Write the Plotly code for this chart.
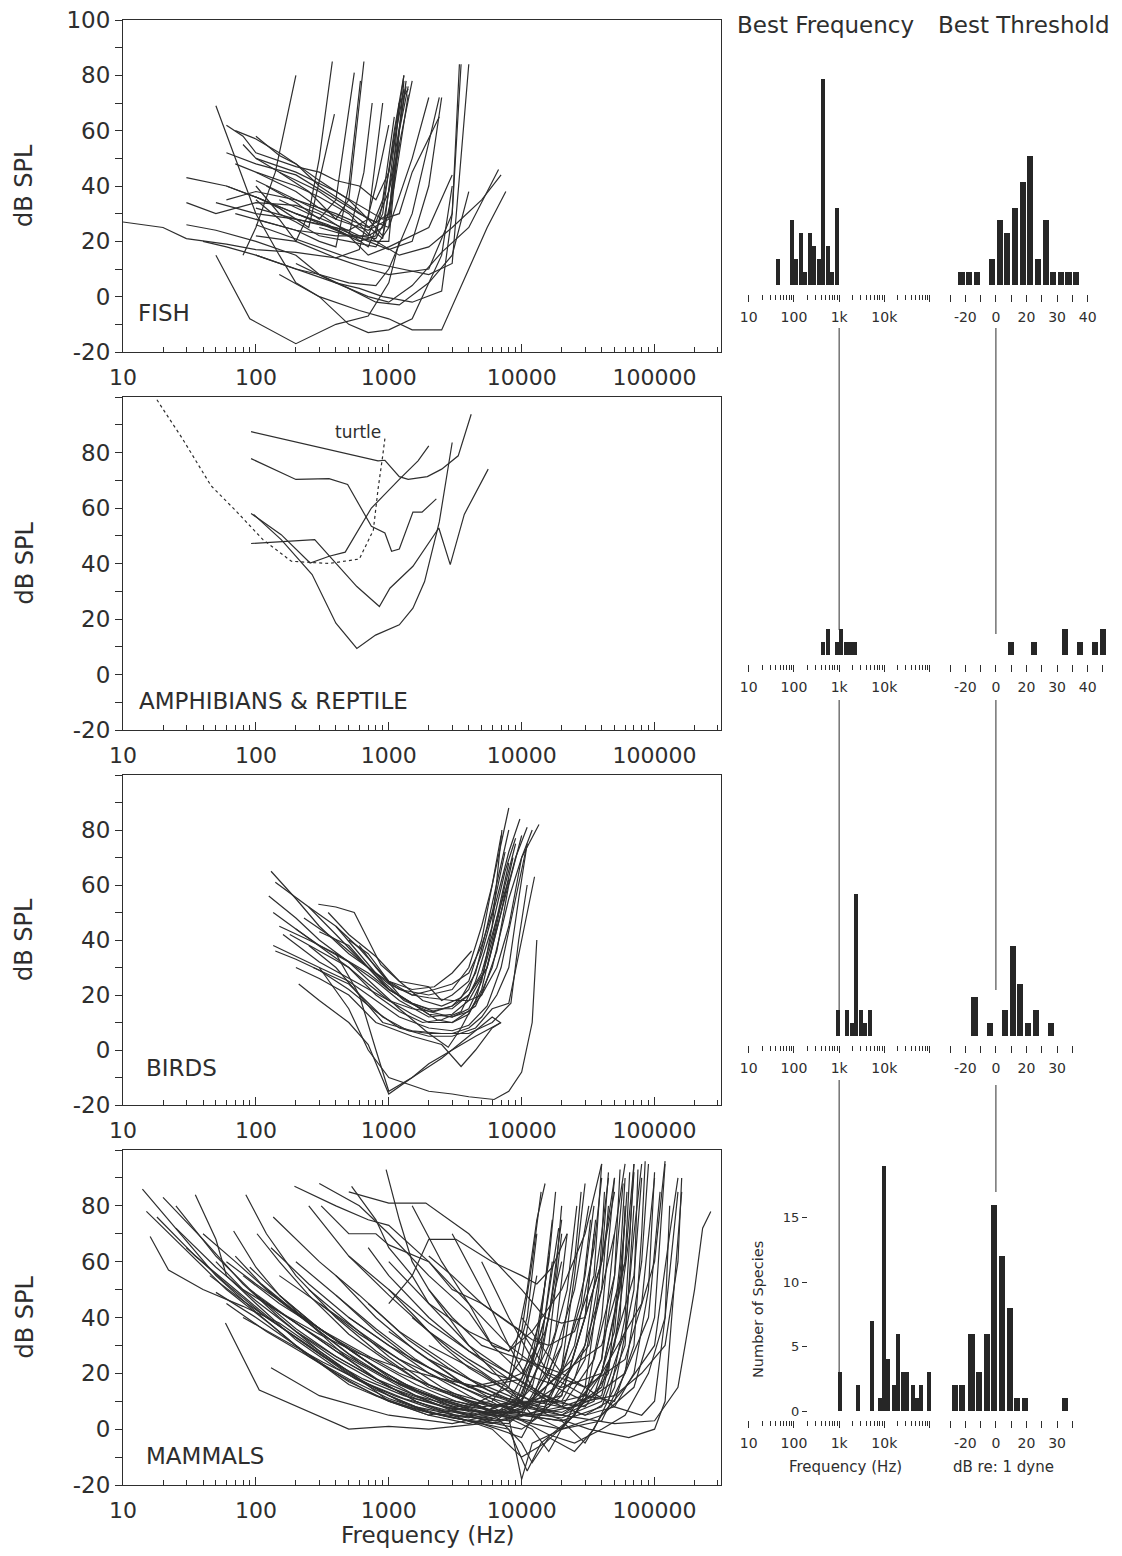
import numpy as np
import plotly.graph_objects as go

# page is 1122 x 1556; the page body adds an 8 px margin, so the figure is 16 px smaller
OFF = 8
FW, FH = 1122 - 2 * OFF, 1556 - 2 * OFF
INK = "#2e2e2e"
FONT = "DejaVu Sans, Liberation Sans, Arial, sans-serif"

# ---------------- DATA ----------------
freq_tick_values = [10, 100, 1000, 10000, 100000]
freq_tick_labels = ["10", "100", "1000", "10000", "100000"]
spl_tick_values = list(range(-20, 101, 10))
fish_spl_labels = ["-20", "", "0", "", "20", "", "40", "", "60", "", "80", "", "100"]
other_spl_labels = ["-20", "", "0", "", "20", "", "40", "", "60", "", "80", "", ""]

# audiograms: (frequency Hz, threshold dB SPL)
fish_curves = [
    [(10, 27), (20, 25), (30, 21), (60, 19), (100, 17), (200, 16), (400, 14), (600, 17), (800, 40), (1000, 62)],
    [(30, 34), (50, 30), (100, 34), (200, 33), (300, 30), (500, 23), (700, 18), (900, 30), (1100, 60), (1300, 80)],
    [(30, 43), (60, 40), (100, 36), (200, 30), (400, 24), (600, 20), (800, 22), (1000, 45), (1200, 70)],
    [(30, 26), (50, 24), (100, 20), (200, 15), (300, 8), (500, 3), (800, -2), (1200, -3), (2000, 5), (3000, 15), (4000, 38)],
    [(50, 69), (70, 50), (100, 30), (150, 15), (200, 5), (300, 0), (500, -10), (700, -13), (1000, -12), (1500, -8), (2000, 5), (2500, 15), (3000, 40)],
    [(50, 15), (90, -8), (200, -17), (400, -10), (700, -7), (1000, 5), (1200, 20)],
    [(60, 62), (80, 58), (100, 52), (200, 47), (300, 45), (400, 42), (600, 40), (800, 35), (1000, 45), (1300, 75)],
    [(60, 52), (100, 48), (200, 44), (400, 35), (600, 30), (800, 27), (1000, 38), (1200, 55)],
    [(70, 60), (100, 57), (150, 52), (200, 48), (300, 42), (500, 35), (700, 28), (900, 22), (1100, 40), (1400, 73)],
    [(100, 58), (150, 51), (200, 48), (300, 40), (500, 33), (700, 28), (1000, 25), (1200, 60), (1400, 76)],
    [(100, 40), (150, 30), (200, 27), (300, 22), (500, 20), (800, 18), (1000, 25), (1500, 50), (2000, 72)],
    [(50, 34), (100, 30), (200, 28), (400, 25), (700, 20), (1000, 17), (1500, 20), (2000, 40), (2500, 72)],
    [(100, 22), (200, 20), (400, 14), (700, 10), (1000, 8), (2000, 10), (3000, 30), (3500, 84)],
    [(100, 26), (150, 23), (300, 18), (500, 14), (1000, 11), (2000, 8), (3000, 12), (4000, 84)],
    [(80, 15), (100, 25), (140, 45), (200, 80)],
    [(100, 35), (150, 28), (200, 20), (250, 30), (300, 50), (376, 85)],
    [(150, 45), (250, 38), (400, 28), (500, 35), (650, 85)],
    [(100, 28), (200, 24), (300, 20), (400, 18), (500, 40), (612, 78)],
    [(120, 40), (200, 34), (300, 28), (400, 35), (550, 81)],
    [(100, 36), (150, 32), (250, 25), (390, 66)],
    [(200, 12), (400, 5), (700, 0), (1000, -2), (1500, 4), (2500, 16), (4000, 25), (6700, 46)],
    [(300, 25), (500, 22), (800, 20), (1200, 15), (2000, 18), (3000, 25), (5000, 35), (7000, 44)],
    [(150, 8), (300, 0), (600, -5), (1000, -8), (1500, -12), (2500, -12), (4000, 10), (5500, 25), (7600, 38)],
    [(70, 48), (100, 45), (200, 40), (300, 36), (500, 30), (800, 20), (1000, 20), (1300, 78)],
    [(80, 55), (100, 50), (150, 45), (300, 38), (600, 28), (900, 21), (1100, 55), (1300, 80)],
    [(100, 42), (150, 38), (200, 35), (400, 28), (700, 24), (1000, 28), (1200, 70), (1400, 75)],
    [(100, 15), (200, 10), (400, 5), (600, 3), (900, 0), (1500, -2), (2500, 2), (3000, 30), (3400, 84)],
    [(40, 20), (60, 18), (100, 15), (200, 10), (300, 8), (500, 5), (800, 4), (1000, 10), (1500, 30), (2400, 72)],
    [(100, 50), (200, 45), (400, 38), (600, 33), (900, 28), (1200, 30), (1500, 45), (2400, 65)],
    [(60, 35), (100, 38), (200, 35), (400, 30), (700, 25), (1000, 30), (1200, 55), (1500, 78)],
    [(200, 30), (300, 27), (500, 22), (700, 15), (1000, 18), (2000, 25), (3000, 44)],
    [(100, 45), (200, 38), (300, 32), (500, 27), (700, 22), (900, 25), (1100, 50), (1350, 76)],
    [(150, 35), (250, 30), (400, 26), (600, 22), (800, 21), (1000, 30), (1200, 60), (1350, 78)],
    [(70, 30), (100, 28), (200, 24), (400, 22), (700, 22), (900, 35), (1100, 65)],
    [(100, 32), (200, 28), (300, 26), (500, 24), (700, 28), (800, 50), (900, 70)],
    [(60, 40), (100, 36), (200, 30), (350, 26), (500, 22), (650, 45), (750, 70)],
]

amph_curves = [
    [(92, 87.5), (830, 77), (935, 77.2), (1200, 71.3), (1400, 70.3), (1950, 71.3), (2500, 74), (3330, 78.8), (4170, 93.8)],
    [(92, 77.8), (200, 70.3), (355, 70.6), (490, 68.5), (740, 53.4), (935, 51), (1050, 44.4), (1200, 45.2), (1520, 58.5), (1780, 58.5), (2280, 63.3)],
    [(92, 47.2), (277, 48.6), (575, 31.7), (850, 24.5), (1020, 31.1), (1520, 39), (2380, 52.8), (2900, 39.6), (3700, 57.7), (5600, 74)],
    [(92, 58), (155, 50.4), (256, 40.2), (356, 42.6), (470, 44.1), (740, 60), (1200, 70.3), (1660, 77), (2000, 82.4)],
    [(96, 57.7), (155, 48.6), (265, 36), (400, 18.5), (575, 9.4), (795, 14.2), (1200, 17.9), (1520, 23.9), (1860, 33.5), (2400, 55), (3000, 83.6)],
]
turtle_curve = [(18, 99), (28, 85), (46, 68), (69, 59.5), (113, 48.6), (185, 40.8), (356, 40), (600, 41.6), (765, 52), (830, 66.7), (900, 78.8), (935, 85)]

bird_curves = [
    [(130, 65), (200, 55), (300, 45), (500, 35), (800, 28), (1200, 22), (2000, 20), (3000, 22), (4000, 30), (5000, 45), (6000, 60), (7000, 75), (8000, 88)],
    [(140, 61), (250, 52), (400, 42), (700, 30), (1000, 22), (1500, 17), (2200, 14), (3000, 16), (4000, 22), (5000, 35), (6500, 55), (8000, 72), (9700, 84)],
    [(125, 56), (200, 48), (300, 40), (500, 32), (800, 25), (1200, 18), (2000, 12), (3000, 13), (4000, 18), (5500, 30), (7000, 50), (9000, 70), (11000, 81)],
    [(135, 50), (200, 44), (300, 38), (500, 30), (700, 24), (1000, 18), (1500, 13), (2000, 10), (3000, 10), (4500, 16), (6000, 30), (8000, 55), (10000, 70), (13500, 82)],
    [(135, 38), (200, 34), (300, 30), (500, 25), (800, 18), (1200, 12), (2000, 8), (3000, 7), (4000, 9), (5500, 16), (7000, 30), (9000, 55), (11000, 75)],
    [(140, 36), (200, 33), (300, 29), (500, 22), (800, 14), (1200, 8), (2000, 5), (3000, 5), (4500, 8), (6000, 15), (8000, 17), (9500, 35), (12500, 63)],
    [(210, 24), (300, 18), (500, 10), (700, 2), (1000, -16), (1500, -10), (2000, -5), (3000, 0), (4500, 5), (7000, 10)],
    [(295, 53), (400, 52), (550, 50), (870, 31), (1200, 25), (2000, 23), (2500, 18), (3000, 20), (4000, 25), (5000, 40), (6000, 60), (7000, 78)],
    [(200, 44), (300, 38), (500, 32), (800, 23), (1200, 15), (2000, 6), (2800, 1), (3500, 8), (4500, 18), (6000, 40), (8000, 68)],
    [(150, 45), (250, 40), (400, 35), (700, 28), (1000, 22), (1500, 17), (2000, 15), (3000, 15), (4000, 20), (5500, 30), (7000, 50), (8600, 70)],
    [(300, 43), (500, 38), (700, 30), (1000, 24), (1500, 20), (2000, 19), (3000, 18), (4000, 18), (5000, 20), (6500, 30), (8000, 45), (10000, 70), (12000, 80)],
    [(250, 38), (400, 30), (600, 20), (900, 10), (1500, 7), (2500, 6), (4000, 6), (6000, 10), (8300, 17), (9500, 40), (11000, 60)],
    [(200, 30), (300, 26), (500, 20), (800, 10), (1500, 5), (2500, 2), (3500, -6), (4500, 0), (6000, 8), (7000, 10)],
    [(300, 30), (500, 15), (700, 0), (1000, -10), (2000, -15), (3000, -16), (4000, -17), (6200, -18), (8000, -15), (10000, -8), (12000, 10), (13000, 40)],
    [(500, 40), (700, 35), (1000, 25), (1500, 22), (2200, 23), (3000, 28), (4200, 36)],
    [(400, 45), (600, 35), (900, 25), (1300, 18), (2000, 14), (3000, 12), (4000, 15), (5000, 25), (6000, 45), (7100, 80)],
    [(180, 42), (300, 36), (500, 30), (800, 20), (1200, 14), (1800, 10), (2500, 11), (3500, 14), (4500, 25), (6000, 45), (7500, 65), (9000, 77)],
    [(400, 35), (600, 20), (800, 0), (1000, -15), (1500, -10), (2500, -3), (4000, 5), (6000, 12), (6900, 10)],
    [(230, 48), (400, 40), (700, 30), (1000, 22), (1600, 16), (2300, 11), (3000, 10), (4000, 13), (5000, 22), (6000, 38), (7500, 60), (9000, 75)],
    [(160, 42), (300, 32), (600, 24), (1000, 18), (1500, 15), (2100, 14), (3000, 16), (4000, 20), (5000, 28), (6500, 48), (8000, 62)],
    [(270, 30), (500, 24), (900, 12), (1400, 7), (2000, 6), (3000, 6), (4000, 8), (5000, 12), (6500, 20), (8000, 30), (9500, 55), (11000, 75)],
    [(350, 50), (500, 42), (800, 34), (1200, 25), (1800, 18), (2500, 16), (3500, 19), (4500, 28), (5500, 45), (7000, 68), (8000, 80)],
    [(250, 52), (400, 45), (600, 37), (1000, 25), (1500, 20), (2200, 22), (3000, 24), (4000, 28), (5000, 38), (6000, 50), (7500, 72)],
    [(600, 38), (800, 30), (1200, 20), (2000, 13), (3000, 12), (4000, 14), (5000, 20), (6500, 36), (8000, 60), (10000, 78)],
]

mammal_curves = [
    [(14, 86), (25, 72), (50, 55), (100, 42), (200, 30), (500, 16), (1000, 10), (2000, 5), (4000, 2), (8000, 6), (12000, 15), (16000, 40), (20000, 75)],
    [(15, 78), (30, 64), (60, 50), (125, 38), (250, 26), (500, 17), (1000, 10), (2000, 6), (4000, 4), (8000, 10), (12000, 25), (16000, 60), (18000, 85)],
    [(16, 69), (22, 57), (40, 50), (80, 44), (150, 38), (300, 28), (600, 18), (1000, 10), (2000, 5), (4000, 8), (8000, 15), (11000, 40), (13000, 70)],
    [(20, 83), (40, 68), (80, 52), (150, 40), (300, 28), (600, 18), (1200, 10), (2500, 5), (5000, 2), (10000, 8), (20000, 20), (30000, 55), (35000, 80)],
    [(35, 84), (50, 68), (60, 55), (100, 45), (200, 32), (400, 22), (800, 14), (1600, 8), (3200, 5), (6400, 3), (10000, 10), (16000, 30), (20000, 70)],
    [(59, 38), (106, 14), (500, 0), (1000, 1), (2000, 0), (5000, 2), (10000, -3), (14000, 10), (20000, 30)],
    [(50, 49), (100, 40), (200, 30), (400, 20), (800, 12), (1600, 7), (3000, 4), (6000, 2), (10000, 5), (16000, 20), (25000, 50), (32000, 80)],
    [(68, 71), (100, 58), (150, 48), (250, 38), (500, 25), (1000, 15), (2000, 10), (4000, 5), (8000, 3), (16000, 8), (30000, 30), (40000, 70), (45000, 90)],
    [(84, 84), (120, 70), (200, 55), (400, 40), (800, 28), (1600, 18), (3000, 12), (6000, 8), (12000, 10), (24000, 25), (40000, 60), (50000, 85)],
    [(102, 70), (150, 60), (250, 48), (500, 34), (1000, 24), (2000, 15), (4000, 10), (8000, 8), (16000, 12), (32000, 30), (50000, 70), (60000, 95)],
    [(135, 76), (200, 68), (300, 60), (600, 48), (1200, 35), (2500, 25), (5000, 15), (10000, 8), (20000, 5), (40000, 15), (70000, 55), (80000, 90)],
    [(195, 87), (400, 80), (700, 75), (1000, 73), (2000, 60), (4000, 45), (6000, 30), (10000, 20), (20000, 15), (40000, 20), (80000, 45), (100000, 90)],
    [(525, 87), (800, 75), (1000, 65), (1500, 55), (2000, 45), (4000, 35), (8000, 28), (12000, 35), (20000, 50), (30000, 70), (40000, 95)],
    [(955, 93), (1200, 75), (1500, 60), (2000, 50), (3000, 40), (5000, 30), (10000, 25), (20000, 20), (40000, 30), (60000, 60), (70000, 95)],
    [(310, 80), (500, 70), (800, 70), (1000, 66), (2000, 60), (3000, 50), (5000, 45), (10000, 35), (16000, 20), (30000, 15), (60000, 25), (100000, 60), (120000, 96)],
    [(130, 22), (300, 12), (1000, 5), (3000, 2), (6000, 5), (10000, 10), (15000, 40)],
    [(1000, 45), (1500, 55), (2000, 68), (3200, 68), (6000, 60), (10000, 55), (13000, 52), (17000, 58), (22000, 70)],
    [(500, 85), (1000, 81), (1900, 81), (4000, 70), (10000, 50), (15000, 40), (20000, 38), (30000, 40), (40000, 60), (50000, 90)],
    [(2000, 25), (4000, 15), (8000, 18), (11000, 50), (13000, 75), (15000, 88)],
    [(1000, 60), (2000, 45), (4000, 30), (8000, 20), (16000, 10), (30000, 5), (45000, 10), (60000, 40), (70000, 95)],
    [(2000, 50), (4000, 30), (8000, 15), (12000, 5), (20000, 0), (40000, 5), (70000, 15), (100000, 40), (120000, 95)],
    [(500, 40), (1000, 30), (2000, 20), (4000, 12), (8000, 5), (12000, 2), (20000, 0), (40000, 3), (60000, 20), (80000, 60), (90000, 95)],
    [(250, 50), (500, 38), (1000, 26), (2000, 16), (4000, 10), (8000, 4), (10000, -18), (12000, -5), (20000, 0), (30000, 10), (40000, 40), (50000, 90)],
    [(400, 55), (800, 40), (1600, 28), (3200, 18), (6400, 10), (10000, 5), (20000, 3), (40000, 8), (60000, 30), (70000, 80)],
    [(100, 48), (200, 38), (400, 28), (800, 18), (1600, 10), (3000, 5), (6000, 0), (10000, -10), (15000, -5), (25000, 5), (40000, 20), (60000, 60), (65000, 92)],
    [(300, 45), (600, 35), (1200, 25), (2500, 15), (5000, 8), (10000, 3), (16000, -2), (25000, -5), (40000, 0), (60000, 5), (90000, 20), (120000, 40), (150000, 85)],
    [(1000, 35), (2000, 25), (4000, 18), (8000, 12), (16000, 5), (32000, 0), (64000, -3), (100000, 0), (120000, 10), (140000, 50), (160000, 85)],
    [(2000, 30), (5000, 20), (10000, 10), (20000, 5), (50000, 2), (100000, 3), (150000, 15), (200000, 50), (230000, 72), (265000, 78)],
    [(200, 60), (400, 48), (800, 35), (1500, 25), (3000, 18), (6000, 12), (10000, 10), (20000, 10), (30000, 25), (40000, 60), (45000, 92)],
    [(150, 55), (300, 45), (600, 34), (1200, 25), (2500, 18), (5000, 12), (10000, 8), (20000, 12), (30000, 40), (35000, 70)],
    [(60, 60), (100, 52), (200, 42), (400, 32), (800, 22), (1600, 14), (3000, 8), (6000, 5), (12000, 10), (20000, 30), (25000, 60), (28000, 85)],
    [(40, 70), (70, 60), (150, 46), (300, 35), (600, 24), (1200, 16), (2500, 10), (5000, 6), (10000, 6), (15000, 20), (22000, 50), (26000, 80)],
    [(25, 80), (50, 62), (100, 48), (200, 36), (400, 26), (800, 18), (1600, 12), (3200, 8), (6000, 10), (10000, 25), (13000, 55)],
    [(80, 55), (150, 45), (300, 36), (600, 28), (1200, 20), (2500, 14), (5000, 10), (10000, 6), (20000, 4), (40000, 10), (60000, 35), (70000, 70), (80000, 95)],
    [(700, 65), (1000, 55), (2000, 40), (4000, 28), (8000, 18), (16000, 10), (30000, 8), (45000, 20), (55000, 60), (60000, 90)],
    [(3000, 70), (5000, 50), (8000, 30), (12000, 15), (20000, 8), (30000, 5), (50000, 8), (70000, 20), (90000, 50), (100000, 92)],
    [(1500, 80), (2500, 60), (4000, 45), (8000, 30), (15000, 20), (30000, 12), (50000, 10), (70000, 30), (80000, 70), (85000, 96)],
    [(500, 62), (1000, 50), (2000, 38), (4000, 28), (8000, 20), (15000, 12), (25000, 8), (40000, 12), (55000, 40), (60000, 80)],
    [(120, 45), (250, 35), (500, 26), (1000, 18), (2000, 12), (4000, 7), (8000, 4), (12000, 0), (16000, -8), (20000, 0), (30000, 15), (38000, 50), (42000, 85)],
    [(90, 50), (200, 38), (400, 28), (800, 20), (1600, 12), (3200, 6), (6400, 2), (10000, 0), (14000, 5), (20000, 22), (25000, 55), (30000, 88)],
    [(30, 65), (60, 52), (120, 40), (250, 30), (500, 20), (1000, 12), (2000, 6), (4000, 3), (8000, 2), (12000, 10), (18000, 35), (22000, 70)],
    [(18, 76), (35, 62), (70, 50), (140, 38), (280, 28), (560, 18), (1100, 12), (2200, 7), (4500, 5), (9000, 8), (14000, 30), (17000, 60)],
    [(60, 45), (120, 35), (250, 26), (500, 18), (1000, 11), (2000, 6), (4000, 3), (8000, 0), (11000, -15), (14000, -5), (25000, 5), (40000, 25), (50000, 70)],
    [(200, 35), (400, 26), (800, 18), (1600, 10), (3200, 5), (6400, 3), (10000, 5), (20000, 3), (30000, -5), (40000, 5), (60000, 15), (100000, 30), (130000, 70), (150000, 90)],
    [(1000, 50), (1600, 40), (2500, 30), (4000, 22), (7000, 15), (12000, 10), (20000, 10), (30000, 12), (40000, 25), (50000, 55), (55000, 93)],
    [(300, 88), (600, 80), (1000, 70), (2000, 55), (4000, 42), (6000, 30), (8000, 28), (10000, 35), (12000, 60), (14000, 85)],
    [(250, 80), (500, 62), (1000, 48), (2000, 35), (4000, 25), (6000, 20), (8000, 18), (10000, 20), (15000, 35), (20000, 60)],
    [(5000, 60), (8000, 40), (12000, 25), (18000, 15), (30000, 10), (50000, 12), (80000, 20), (120000, 30), (150000, 60), (160000, 90)],
    [(10000, 40), (15000, 28), (20000, 20), (30000, 15), (50000, 8), (80000, 5), (100000, 10), (120000, 40), (130000, 80)],
    [(2000, 62), (3000, 55), (5000, 45), (8000, 38), (12000, 32), (16000, 30), (25000, 35), (35000, 55), (40000, 95)],
    [(50, 60), (80, 50), (150, 42), (300, 34), (600, 27), (1200, 22), (2500, 18), (5000, 15), (10000, 18), (14000, 40), (17000, 75)],
    [(3000, 12), (6000, 6), (10000, -5), (12000, -12), (16000, -3), (25000, -8), (35000, 0), (50000, 15), (70000, 50), (75000, 93)],
    [(70, 62), (120, 50), (250, 38), (500, 27), (1000, 18), (2000, 12), (4000, 8), (8000, 6), (16000, 10), (25000, 30), (35000, 65), (40000, 90)],
    [(90, 58), (150, 48), (300, 36), (600, 26), (1200, 17), (2500, 11), (5000, 8), (10000, 10), (14000, 25), (18000, 55), (20000, 80)],
    [(110, 52), (200, 42), (400, 32), (800, 22), (1600, 14), (3200, 9), (6400, 5), (12000, 3), (20000, 12), (30000, 40), (36000, 75)],
    [(150, 48), (300, 36), (600, 26), (1200, 16), (2500, 9), (5000, 5), (10000, 5), (20000, 8), (35000, 25), (50000, 55), (58000, 88)],
    [(45, 55), (80, 46), (160, 36), (320, 26), (640, 18), (1300, 12), (2600, 8), (5000, 6), (9000, 10), (13000, 30), (16000, 62)],
    [(200, 42), (400, 32), (800, 24), (1600, 16), (3200, 10), (6400, 6), (12000, 5), (24000, 8), (40000, 20), (55000, 50), (62000, 85)],
    [(80, 40), (160, 32), (320, 24), (640, 17), (1300, 11), (2600, 7), (5000, 5), (10000, 7), (18000, 15), (28000, 45), (33000, 75)],
    [(400, 48), (800, 36), (1600, 25), (3200, 16), (6400, 9), (12000, 5), (20000, 5), (35000, 10), (50000, 30), (65000, 70), (70000, 92)],
    [(700, 45), (1400, 32), (2800, 22), (5600, 14), (11000, 8), (20000, 6), (35000, 12), (50000, 35), (60000, 75)],
    [(1500, 40), (3000, 28), (6000, 18), (12000, 10), (20000, 8), (35000, 12), (60000, 20), (90000, 40), (110000, 85)],
    [(130, 65), (250, 52), (500, 40), (1000, 30), (2000, 22), (4000, 15), (8000, 10), (15000, 8), (25000, 18), (40000, 50), (45000, 80)],
    [(25, 72), (50, 58), (100, 46), (200, 35), (400, 25), (800, 17), (1600, 11), (3200, 7), (6400, 6), (10000, 12), (15000, 40), (19000, 72)],
]

# histograms: best frequency (bin centre, Hz) and best threshold (bin centre, dB)
fish_bf_hz = [45, 89, 112, 141, 178, 224, 282, 355, 447, 562, 708, 891]
fish_bf_n = [2, 5, 2, 4, 1, 4, 3, 2, 16, 3, 1, 6]
fish_bt_db = [-22.5, -17.5, -12.5, -2.5, 2.5, 7.5, 12.5, 17.5, 22.5, 27.5, 32.5, 37.5, 42.5, 47.5, 52.5]
fish_bt_n = [1, 1, 1, 2, 5, 4, 6, 8, 10, 2, 5, 1, 1, 1, 1]

amph_bf_hz = [447, 562, 891, 1122, 1413, 1778, 2239]
amph_bf_n = [1, 2, 1, 2, 1, 1, 1]
amph_bt_db = [10, 25, 45, 55, 65, 70]
amph_bt_n = [1, 1, 2, 1, 1, 2]

bird_bf_hz = [955, 1514, 1905, 2399, 3020, 3802, 4786]
bird_bf_n = [2, 2, 1, 11, 2, 1, 2]
bird_bt_db = [-14, -4, 6, 11, 16, 21, 26, 36]
bird_bt_n = [3, 1, 2, 7, 4, 1, 2, 1]

mammal_bf_hz = [1050, 2630, 5370, 7940, 9770, 12000, 16200, 20000, 25700, 31600, 42700, 52500, 64600, 97700]
mammal_bf_n = [3, 2, 7, 1, 19, 4, 2, 6, 3, 3, 2, 1, 2, 3]
mammal_bt_db = [-27, -22, -16, -11, -6, -1, 4, 9, 14, 19, 45]
mammal_bt_n = [2, 2, 6, 3, 6, 16, 12, 8, 1, 1, 1]

hist_freq_ticks = [10, 100, 1000, 10000, 100000]
hist_freq_labels = ["10", "100", "1k", "10k", ""]
thr_ticks_fish = [-30, -20, -10, 0, 10, 20, 30, 40, 50, 60]
thr_text_fish = ["", "-20", "", "0", "", "20", "", "30", "", "40"]
thr_ticks_amph = [-30, -20, -10, 0, 10, 20, 30, 40, 50, 60, 70]
thr_text_amph = ["", "-20", "", "0", "", "20", "", "30", "", "40", ""]
thr_ticks_bird = [-30, -20, -10, 0, 10, 20, 30, 40, 50]
thr_text_bird = ["", "-20", "", "0", "", "20", "", "30", ""]
species_ticks = [0, 5, 10, 15]

# ---------------- LAYOUT GEOMETRY (page pixels) ----------------
def py(p):
    return 1 - (p - OFF) / FH

def px(p):
    return (p - OFF) / FW

left_panels = [(20, 352), (397, 730), (775, 1105), (1150, 1485)]
hist_baselines = [285, 655, 1036, 1411]
PX_PER_COUNT = 12.9
HIST_YMIN, HIST_YMAX = -0.7, 21

fig = go.Figure()


def joined(curves):
    xs, ys = [], []
    for c in curves:
        for f, d in c:
            xs.append(f)
            ys.append(d)
        xs.append(None)
        ys.append(None)
    return xs, ys


groups = [fish_curves, amph_curves, bird_curves, mammal_curves]
for i, curves in enumerate(groups, start=1):
    xs, ys = joined(curves)
    fig.add_trace(go.Scatter(x=xs, y=ys, mode="lines", line=dict(color=INK, width=1.2),
                             xaxis="x" if i == 1 else f"x{i}", yaxis="y" if i == 1 else f"y{i}",
                             showlegend=False, hoverinfo="skip", connectgaps=False))
tx, ty = joined([turtle_curve])
fig.add_trace(go.Scatter(x=tx, y=ty, mode="lines", line=dict(color=INK, width=1.2, dash="3px,3px"),
                         xaxis="x2", yaxis="y2", showlegend=False, hoverinfo="skip"))

minor_hz = [k * 10 ** n for n in range(1, 6) for k in range(2, 10) if k * 10 ** n < 320000]

layout = dict(
    template="none",
    width=FW, height=FH, autosize=False,
    margin=dict(l=0, r=0, t=0, b=0, pad=0, autoexpand=False),
    paper_bgcolor="white", plot_bgcolor="white",
    font=dict(family=FONT, color=INK),
    bargap=0,
)

for i, (top, bot) in enumerate(left_panels, start=1):
    xa = "xaxis" if i == 1 else f"xaxis{i}"
    ya = "yaxis" if i == 1 else f"yaxis{i}"
    layout[xa] = dict(
        domain=[px(123), px(721)], type="log", range=[1, 5.5],
        anchor="y" if i == 1 else f"y{i}", automargin=False,
        showline=True, mirror=True, linecolor=INK, linewidth=1.2,
        showgrid=False, zeroline=False,
        ticks="inside", ticklen=8, tickcolor=INK, tickwidth=1,
        tickvals=freq_tick_values, ticktext=freq_tick_labels,
        tickfont=dict(size=22, color=INK), ticklabelstandoff=5, ticklabeloverflow="allow",
        minor=dict(ticks="inside", ticklen=5, tickcolor=INK, tickwidth=1, tickvals=minor_hz, showgrid=False),
    )
    layout[ya] = dict(
        domain=[py(bot), py(top)], range=[-20, 100],
        anchor="x" if i == 1 else f"x{i}", automargin=False,
        showline=True, mirror=True, linecolor=INK, linewidth=1.2,
        showgrid=False, zeroline=False,
        ticks="outside", ticklen=7, tickcolor=INK,
        tickvals=spl_tick_values,
        ticktext=fish_spl_labels if i == 1 else other_spl_labels,
        tickfont=dict(size=23, color=INK), ticklabeloverflow="allow",
    )

hist_sets = [
    (fish_bf_hz, fish_bf_n, fish_bt_db, fish_bt_n, thr_ticks_fish, thr_text_fish),
    (amph_bf_hz, amph_bf_n, amph_bt_db, amph_bt_n, thr_ticks_amph, thr_text_amph),
    (bird_bf_hz, bird_bf_n, bird_bt_db, bird_bt_n, thr_ticks_bird, thr_text_bird),
    (mammal_bf_hz, mammal_bf_n, mammal_bt_db, mammal_bt_n, thr_ticks_bird, thr_text_bird),
]
hist_minor = [np.log10(k * 10 ** n) for n in range(1, 5) for k in range(2, 10)]

for j, (bf_hz, bf_n, bt_db, bt_n, tticks, ttext) in enumerate(hist_sets):
    fa = 5 + 2 * j
    ta = 6 + 2 * j
    base = hist_baselines[j]
    dom_bot = base + (-HIST_YMIN) * PX_PER_COUNT
    dom_top = dom_bot - (HIST_YMAX - HIST_YMIN) * PX_PER_COUNT
    ydom = [py(dom_bot), py(dom_top)]
    fig.add_trace(go.Bar(x=np.log10(bf_hz), y=bf_n, width=0.092, marker=dict(color="#262626", line=dict(width=0)),
                         xaxis=f"x{fa}", yaxis=f"y{fa}", showlegend=False, hoverinfo="skip"))
    fig.add_trace(go.Bar(x=bt_db, y=bt_n, width=4.0, marker=dict(color="#262626", line=dict(width=0)),
                         xaxis=f"x{ta}", yaxis=f"y{ta}", showlegend=False, hoverinfo="skip"))
    layout[f"xaxis{fa}"] = dict(
        domain=[px(742), px(934)], range=[0.85, 5.1], anchor=f"y{fa}", automargin=False,
        showline=False, showgrid=False, zeroline=False,
        ticks="outside", ticklen=7, tickwidth=1.4, tickcolor=INK,
        tickvals=list(np.log10(hist_freq_ticks)), ticktext=hist_freq_labels,
        tickfont=dict(size=14, color=INK), ticklabelstandoff=3,
        minor=dict(ticks="outside", ticklen=5, tickcolor=INK, tickwidth=1, tickvals=hist_minor, showgrid=False),
    )
    layout[f"xaxis{ta}"] = dict(
        domain=[px(947), px(1106)], range=[-32, 72], anchor=f"y{ta}", automargin=False,
        showline=False, showgrid=False, zeroline=False,
        ticks="outside", ticklen=7, tickcolor=INK, tickwidth=1,
        tickvals=tticks, ticktext=ttext,
        tickfont=dict(size=14, color=INK), ticklabelstandoff=3,
    )
    layout[f"yaxis{ta}"] = dict(domain=ydom, range=[HIST_YMIN, HIST_YMAX], anchor=f"x{ta}",
                                visible=False, automargin=False)
    if j == 3:
        layout[f"yaxis{fa}"] = dict(
            domain=ydom, range=[HIST_YMIN, HIST_YMAX], anchor="free", position=px(807), side="left",
            automargin=False, showline=False, showgrid=False, zeroline=False,
            ticks="outside", ticklen=5, tickcolor=INK, tickvals=species_ticks,
            tickfont=dict(size=13, color=INK),
        )
    else:
        layout[f"yaxis{fa}"] = dict(domain=ydom, range=[HIST_YMIN, HIST_YMAX], anchor=f"x{fa}",
                                    visible=False, automargin=False)

fig.update_layout(**layout)

# connecting guide lines (1 kHz and 0 dB)
freq_segments = [(328, 630), (700, 1010), (1080, 1372)]
thr_segments = [(328, 634), (700, 990), (1085, 1192)]
for y0, y1 in freq_segments:
    fig.add_shape(type="line", xref="x5", yref="paper", x0=3.0, x1=3.0, y0=py(y0), y1=py(y1),
                  line=dict(color=INK, width=1))
for y0, y1 in thr_segments:
    fig.add_shape(type="line", xref="x6", yref="paper", x0=0, x1=0, y0=py(y0), y1=py(y1),
                  line=dict(color=INK, width=1))

ann = []
def add_text(text, x, y, size, xanchor="center", angle=0):
    ann.append(dict(text=text, x=px(x), y=py(y), xref="paper", yref="paper", showarrow=False,
                    xanchor=xanchor, yanchor="middle", textangle=angle,
                    font=dict(size=size, color=INK, family=FONT)))

for (top, bot) in left_panels:
    add_text("dB SPL", 24, (top + bot) / 2, 24, angle=-90)
add_text("FISH", 136, 313, 23, xanchor="left")
add_text("AMPHIBIANS &amp; REPTILE", 137, 701, 23, xanchor="left")
add_text("BIRDS", 144, 1068, 23, xanchor="left")
add_text("MAMMALS", 144, 1456, 23, xanchor="left")
add_text("turtle", 358, 432, 17)
add_text("Frequency (Hz)", 427, 1535, 23)
add_text("Best Frequency", 825, 25, 23)
add_text("Best Threshold", 1024, 25, 23)
add_text("Frequency (Hz)", 845, 1467, 15)
add_text("dB re: 1 dyne", 1003, 1467, 15)
add_text("Number of Species", 758, 1310, 14.5, angle=-90)
fig.update_layout(annotations=ann)

fig.write_html("out.html")
